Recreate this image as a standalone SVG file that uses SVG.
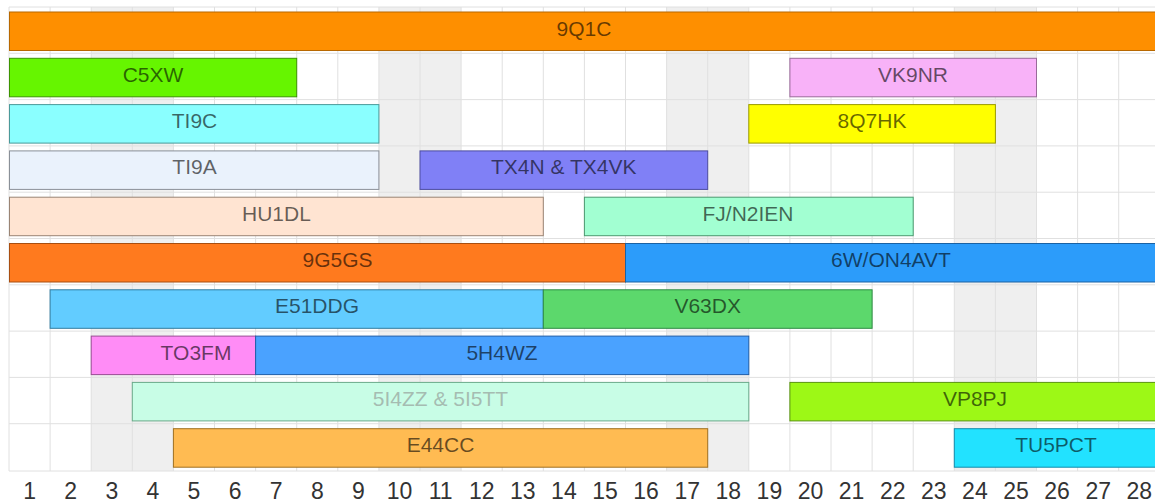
<svg xmlns="http://www.w3.org/2000/svg" width="1155" height="504" viewBox="0 0 1155 504">
<style>
.bg{fill:#ffffff}
.wk{fill:#efefef}
.gl{stroke:#e0e0e0;stroke-width:1;fill:none}
.bar{stroke-width:1}
.lbl{font-family:"Liberation Sans",Arial,sans-serif;font-size:21px;fill:#000;fill-opacity:0.6;text-anchor:middle}
.day{font-family:"Liberation Sans",Arial,sans-serif;font-size:23px;fill:#333;text-anchor:middle}
</style>
<rect class="bg" x="0" y="0" width="1155" height="504"/>
<g id="grid">
  <rect class="wk" x="91.2" y="7" width="82.2" height="464"/>
  <rect class="wk" x="378.9" y="7" width="82.2" height="464"/>
  <rect class="wk" x="666.6" y="7" width="82.2" height="464"/>
  <rect class="wk" x="954.3" y="7" width="82.2" height="464"/>
  <path class="gl" d="M9,7V471M50.1,7V471M91.2,7V471M132.3,7V471M173.4,7V471M214.5,7V471M255.6,7V471M296.7,7V471M337.8,7V471M378.9,7V471M420,7V471M461.1,7V471M502.2,7V471M543.3,7V471M584.4,7V471M625.5,7V471M666.6,7V471M707.7,7V471M748.8,7V471M789.9,7V471M831,7V471M872.1,7V471M913.2,7V471M954.3,7V471M995.4,7V471M1036.5,7V471M1077.6,7V471M1118.7,7V471"/>
  <path class="gl" d="M9,7H1155M9,53.3H1155M9,99.6H1155M9,145.9H1155M9,192.2H1155M9,238.5H1155M9,284.8H1155M9,331.1H1155M9,377.4H1155M9,423.7H1155M9,471H1155"/>
</g>
<g id="bars">
  <g id="n-9Q1C"><rect class="bar" x="9.5" y="12" width="1160" height="38.5" fill="#fe8f00" stroke="#b86800"/><text class="lbl" x="584" y="35.5">9Q1C</text></g>
  <g id="n-C5XW"><rect class="bar" x="9.5" y="58.3" width="287.2" height="38.5" fill="#66f500" stroke="#3c9400"/><text class="lbl" x="153" y="81.8">C5XW</text></g>
  <g id="n-VK9NR"><rect class="bar" x="789.9" y="58.3" width="246.6" height="38.5" fill="#f8b2f8" stroke="#9a6a9a"/><text class="lbl" x="913" y="81.8">VK9NR</text></g>
  <g id="n-TI9C"><rect class="bar" x="9.5" y="104.6" width="369.4" height="38.5" fill="#8affff" stroke="#4a9a9a"/><text class="lbl" x="194.5" y="128.1">TI9C</text></g>
  <g id="n-8Q7HK"><rect class="bar" x="748.8" y="104.6" width="246.6" height="38.5" fill="#ffff00" stroke="#9a9a00"/><text class="lbl" x="872" y="128.1">8Q7HK</text></g>
  <g id="n-TI9A"><rect class="bar" x="9.5" y="150.9" width="369.4" height="38.5" fill="#eaf2fc" stroke="#8a9098"/><text class="lbl" x="194.5" y="174.4">TI9A</text></g>
  <g id="n-TX4N"><rect class="bar" x="420" y="150.9" width="287.7" height="38.5" fill="#8080f6" stroke="#4c4ca0"/><text class="lbl" x="563.8" y="174.4">TX4N &amp; TX4VK</text></g>
  <g id="n-HU1DL"><rect class="bar" x="9.5" y="197.2" width="533.8" height="38.5" fill="#ffe4d2" stroke="#9a8474"/><text class="lbl" x="276.4" y="220.7">HU1DL</text></g>
  <g id="n-FJN2IEN"><rect class="bar" x="584.4" y="197.2" width="328.8" height="38.5" fill="#a2ffd2" stroke="#4c9a70"/><text class="lbl" x="748" y="220.7">FJ/N2IEN</text></g>
  <g id="n-9G5GS"><rect class="bar" x="9.5" y="243.5" width="616" height="38.5" fill="#ff7a1e" stroke="#a84e10"/><text class="lbl" x="337.5" y="267">9G5GS</text></g>
  <g id="n-6WON4AVT"><rect class="bar" x="625.5" y="243.5" width="545" height="38.5" fill="#2c9cfa" stroke="#1a62a4"/><text class="lbl" x="891" y="267">6W/ON4AVT</text></g>
  <g id="n-E51DDG"><rect class="bar" x="50.1" y="289.8" width="493.2" height="38.5" fill="#62ccff" stroke="#307ca0"/><text class="lbl" x="317" y="313.3">E51DDG</text></g>
  <g id="n-V63DX"><rect class="bar" x="543.3" y="289.8" width="328.8" height="38.5" fill="#5cd86c" stroke="#2e8c44"/><text class="lbl" x="707.7" y="313.3">V63DX</text></g>
  <g id="n-TO3FM"><rect class="bar" x="91.2" y="336.1" width="164.4" height="38.5" fill="#ff8cf6" stroke="#9a4c94"/><text class="lbl" x="196" y="359.6">TO3FM</text></g>
  <g id="n-5H4WZ"><rect class="bar" x="255.6" y="336.1" width="493.2" height="38.5" fill="#4aa2ff" stroke="#205ea8"/><text class="lbl" x="502" y="359.6">5H4WZ</text></g>
  <g id="n-5I4ZZ"><rect class="bar" x="132.3" y="382.4" width="616.5" height="38.5" fill="#c8fde6" stroke="#6aaa8a"/><text class="lbl" x="440.5" y="405.9" style="fill:#9fb0a8;fill-opacity:0.85">5I4ZZ &amp; 5I5TT</text></g>
  <g id="n-VP8PJ"><rect class="bar" x="789.9" y="382.4" width="380" height="38.5" fill="#9df816" stroke="#5a9410"/><text class="lbl" x="975" y="405.9">VP8PJ</text></g>
  <g id="n-E44CC"><rect class="bar" x="173.4" y="428.7" width="534.3" height="38.5" fill="#ffbb52" stroke="#a07020"/><text class="lbl" x="440.5" y="452.2">E44CC</text></g>
  <g id="n-TU5PCT"><rect class="bar" x="954.3" y="428.7" width="220" height="38.5" fill="#22e2ff" stroke="#128cac"/><text class="lbl" x="1056" y="452.2">TU5PCT</text></g>
</g>
<g id="axis">
  <text class="day" x="29.6" y="498.5">1</text>
  <text class="day" x="70.7" y="498.5">2</text>
  <text class="day" x="111.8" y="498.5">3</text>
  <text class="day" x="152.9" y="498.5">4</text>
  <text class="day" x="194" y="498.5">5</text>
  <text class="day" x="235.1" y="498.5">6</text>
  <text class="day" x="276.2" y="498.5">7</text>
  <text class="day" x="317.3" y="498.5">8</text>
  <text class="day" x="358.4" y="498.5">9</text>
  <text class="day" x="399.5" y="498.5">10</text>
  <text class="day" x="440.6" y="498.5">11</text>
  <text class="day" x="481.7" y="498.5">12</text>
  <text class="day" x="522.8" y="498.5">13</text>
  <text class="day" x="563.9" y="498.5">14</text>
  <text class="day" x="605" y="498.5">15</text>
  <text class="day" x="646.1" y="498.5">16</text>
  <text class="day" x="687.2" y="498.5">17</text>
  <text class="day" x="728.3" y="498.5">18</text>
  <text class="day" x="769.4" y="498.5">19</text>
  <text class="day" x="810.5" y="498.5">20</text>
  <text class="day" x="851.6" y="498.5">21</text>
  <text class="day" x="892.7" y="498.5">22</text>
  <text class="day" x="933.8" y="498.5">23</text>
  <text class="day" x="974.9" y="498.5">24</text>
  <text class="day" x="1016" y="498.5">25</text>
  <text class="day" x="1057.1" y="498.5">26</text>
  <text class="day" x="1098.2" y="498.5">27</text>
  <text class="day" x="1139.3" y="498.5">28</text>
</g>
</svg>
